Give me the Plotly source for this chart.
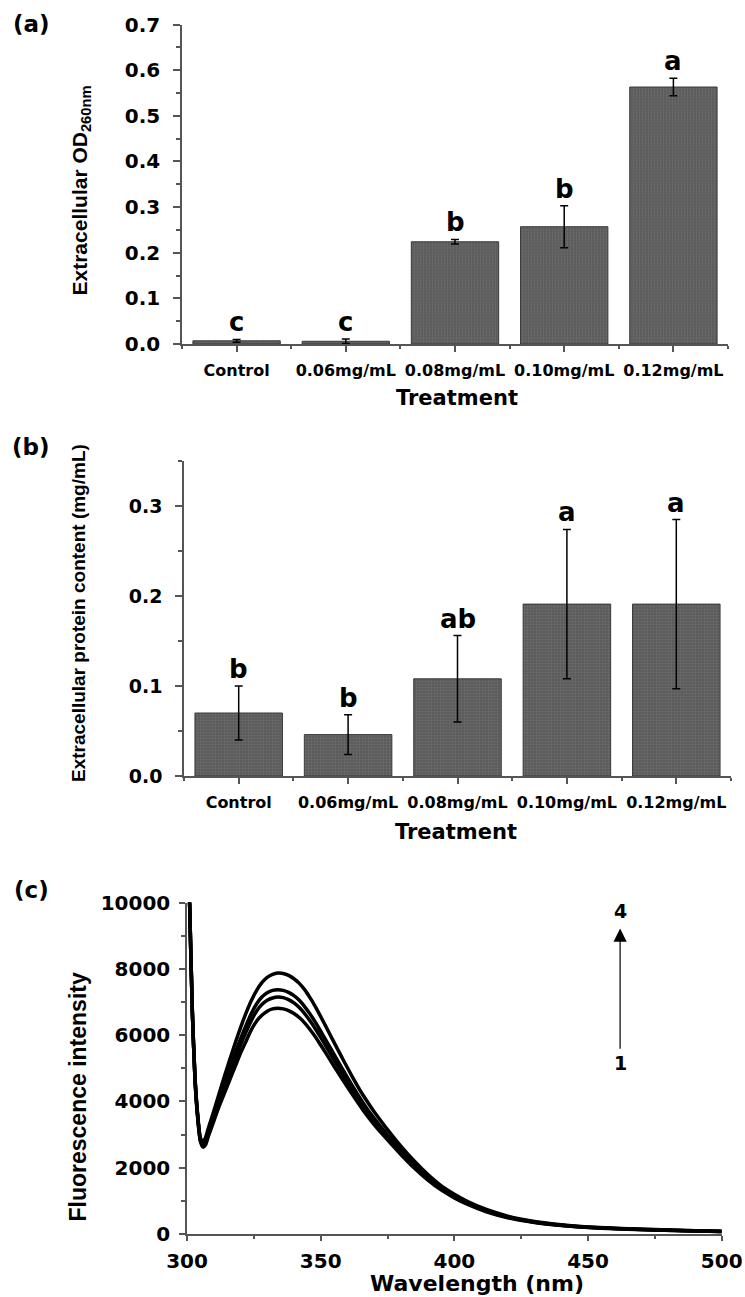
import plotly.graph_objects as go

# ---------------- data ----------------
categories = ["Control", "0.06mg/mL", "0.08mg/mL", "0.10mg/mL", "0.12mg/mL"]

od260_mean = [0.007, 0.006, 0.224, 0.257, 0.563]
od260_err = [0.003, 0.005, 0.005, 0.046, 0.019]
od260_letters = ["c", "c", "b", "b", "a"]

protein_mean = [0.070, 0.046, 0.108, 0.191, 0.191]
protein_err = [0.030, 0.022, 0.048, 0.083, 0.094]
protein_letters = ["b", "b", "ab", "a", "a"]

wavelength = [300, 301, 302, 303, 304, 305, 306, 307, 308, 310, 312, 314, 316, 318, 320,
              322, 324, 326, 328, 330, 332, 334, 336, 338, 340, 342, 344, 346, 348, 350,
              352, 355, 358, 362, 366, 370, 375, 380, 385, 390, 395, 400, 405, 412, 420,
              430, 440, 450, 460, 475, 490, 500]
fluor_1 = [13000, 9900, 6700, 4650, 3500, 2800, 2620, 2700, 2950, 3400, 3850, 4250, 4650, 5050, 5450,
           5800, 6150, 6420, 6600, 6720, 6790, 6810, 6790, 6740, 6650, 6530, 6370, 6170, 5950, 5700,
           5450, 5060, 4680, 4190, 3720, 3300, 2840, 2400, 1990, 1630, 1330, 1090, 890, 670, 490,
           345, 255, 195, 160, 120, 90, 72]
fluor_2 = [13000, 9900, 6700, 4670, 3530, 2830, 2670, 2760, 3000, 3480, 3950, 4400, 4850, 5280, 5700,
           6080, 6430, 6720, 6920, 7050, 7120, 7150, 7130, 7070, 6970, 6830, 6650, 6430, 6190, 5930,
           5660, 5250, 4850, 4320, 3830, 3400, 2920, 2470, 2050, 1680, 1370, 1120, 915, 690, 505,
           355, 262, 200, 165, 124, 93, 74]
fluor_3 = [13000, 9900, 6700, 4690, 3560, 2860, 2720, 2830, 3080, 3570, 4060, 4530, 5000, 5450, 5880,
           6280, 6640, 6940, 7150, 7280, 7350, 7370, 7350, 7290, 7190, 7050, 6860, 6640, 6390, 6120,
           5840, 5420, 5000, 4450, 3940, 3490, 2990, 2530, 2100, 1720, 1400, 1150, 935, 705, 515,
           362, 267, 205, 168, 127, 95, 76]
fluor_4 = [13000, 9900, 6700, 4700, 3600, 2900, 2780, 2920, 3200, 3700, 4230, 4760, 5260, 5750, 6220,
           6650, 7030, 7340, 7580, 7740, 7830, 7870, 7860, 7800, 7700, 7560, 7370, 7130, 6860, 6560,
           6250, 5780, 5320, 4720, 4170, 3690, 3150, 2650, 2200, 1800, 1460, 1200, 980, 740, 540,
           378, 278, 212, 175, 133, 99, 80]
spectra = [fluor_1, fluor_2, fluor_3, fluor_4]

# ---------------- layout helpers ----------------
W, H = 745, 1297
def fx(p):
    return p / W
def fy(p):
    return 1 - p / H

AX = "#555555"
TICKFONT = "DejaVu Sans"
TITLEFONT = "Liberation Sans, Arial"

xpos = list(range(len(categories)))
boundaries = [i - 0.5 for i in range(len(categories) + 1)]

bar_marker = dict(
    color="#5c5c5c",
    line=dict(color="#3a3a3a", width=1),
    pattern=dict(shape=".", fgcolor="#6e6e6e", bgcolor="#5a5a5a", size=3, solidity=0.35),
)

fig = go.Figure()

# (a) bars
fig.add_trace(go.Bar(
    x=xpos, y=od260_mean, width=0.8, marker=bar_marker,
    error_y=dict(type="data", array=od260_err, color="black", thickness=1.5, width=4),
    xaxis="x", yaxis="y", showlegend=False))

# (b) bars
fig.add_trace(go.Bar(
    x=xpos, y=protein_mean, width=0.8, marker=bar_marker,
    error_y=dict(type="data", array=protein_err, color="black", thickness=1.5, width=4),
    xaxis="x2", yaxis="y2", showlegend=False))

# (c) spectra
for s in spectra:
    fig.add_trace(go.Scatter(
        x=wavelength, y=s, mode="lines",
        line=dict(color="black", width=3.5, shape="spline", smoothing=0.6),
        xaxis="x3", yaxis="y3", showlegend=False))

def bar_xaxis(domain, anchor):
    return dict(
        domain=domain, anchor=anchor, range=[-0.5, len(categories) - 0.5],
        automargin=False,
        tickmode="array", tickvals=xpos, ticktext=categories,
        ticks="outside", ticklen=6, tickwidth=1.5, tickcolor=AX,
        showline=True, linecolor=AX, linewidth=1.5,
        showgrid=False, zeroline=False, ticklabelstandoff=5,
        tickfont=dict(family=TICKFONT, size=16, color="black", weight="bold"),
        minor=dict(tickmode="array", tickvals=boundaries, ticks="outside",
                   ticklen=3, tickwidth=1.5, tickcolor=AX),
    )

def val_yaxis(domain, anchor, rng, dtick, fsize):
    return dict(
        domain=domain, anchor=anchor, range=rng, dtick=dtick, tick0=0,
        automargin=False,
        tickformat=".1f", ticks="outside", ticklen=7, tickwidth=1.5, tickcolor=AX,
        showline=True, linecolor=AX, linewidth=1.5,
        showgrid=False, zeroline=False, ticklabelstandoff=9,
        tickfont=dict(family=TICKFONT, size=fsize, color="black", weight="bold"),
        minor=dict(dtick=dtick / 2, tick0=0, ticks="outside", ticklen=4,
                   tickwidth=1.5, tickcolor=AX),
    )

layout = dict(
    template="none",
    width=W, height=H, autosize=False,
    margin=dict(l=0, r=0, t=0, b=0, pad=0),
    paper_bgcolor="white", plot_bgcolor="white",
    bargap=0.2,
    xaxis=bar_xaxis([fx(182), fx(728)], "y"),
    yaxis=val_yaxis([fy(344), fy(24.5)], "x", [0, 0.7], 0.1, 20),
    xaxis2=bar_xaxis([fx(184), fx(731)], "y2"),
    yaxis2=val_yaxis([fy(776), fy(461)], "x2", [0, 0.35], 0.1, 19),
    xaxis3=dict(
        domain=[fx(187), fx(721.7)], anchor="y3", range=[300, 500], dtick=50, tick0=300,
        automargin=False,
        ticks="outside", ticklen=5, tickwidth=1.5, tickcolor=AX,
        showline=True, linecolor=AX, linewidth=1.5, showgrid=False, zeroline=False,
        ticklabelstandoff=3,
        tickfont=dict(family=TICKFONT, size=20, color="black", weight="bold"),
        minor=dict(dtick=25, tick0=300, ticks="outside", ticklen=3, tickwidth=1.5, tickcolor=AX),
    ),
    yaxis3=dict(
        domain=[fy(1234), fy(902.5)], anchor="x3", range=[0, 10000], dtick=2000, tick0=0,
        automargin=False,
        tickformat="d", ticks="outside", ticklen=6, tickwidth=1.5, tickcolor=AX,
        showline=True, linecolor=AX, linewidth=1.5, showgrid=False, zeroline=False,
        ticklabelstandoff=5,
        tickfont=dict(family=TICKFONT, size=20, color="black", weight="bold"),
        minor=dict(dtick=1000, tick0=0, ticks="outside", ticklen=4, tickwidth=1.5, tickcolor=AX),
    ),
)
fig.update_layout(**layout)

ann = []
# significance letters
for i in xpos:
    ann.append(dict(x=i, y=od260_mean[i] + od260_err[i], xref="x", yref="y",
                    text=od260_letters[i], showarrow=False, xanchor="center", yanchor="bottom",
                    font=dict(family=TICKFONT, size=26, color="black", weight="bold")))
    ann.append(dict(x=i, y=protein_mean[i] + protein_err[i], xref="x2", yref="y2",
                    text=protein_letters[i], showarrow=False, xanchor="center", yanchor="bottom",
                    font=dict(family=TICKFONT, size=26, color="black", weight="bold")))

# panel labels
for lab, yy in [("(a)", 24), ("(b)", 447), ("(c)", 890)]:
    ann.append(dict(x=fx(31), y=fy(yy), xref="paper", yref="paper", text=lab,
                    showarrow=False, xanchor="center", yanchor="middle",
                    font=dict(family=TICKFONT, size=23, color="black", weight="bold")))

def title(text, x, y, size, family, angle=0):
    return dict(x=fx(x), y=fy(y), xref="paper", yref="paper", text=text, textangle=angle,
                showarrow=False, xanchor="center", yanchor="middle",
                font=dict(family=family, size=size, color="black", weight="bold"))

# axis titles
ann.append(title("Treatment", 456.5, 398, 21, TICKFONT))
ann.append(title("Treatment", 456, 832, 21, TICKFONT))
ann.append(title("Wavelength (nm)", 477, 1283, 22, TICKFONT))
ann.append(title("Extracellular OD<sub>260nm</sub>", 80, 190.5, 21, TITLEFONT, -90))
ann.append(title("Extracellular protein content (mg/mL)", 78, 613, 19, TITLEFONT, -90))
ann.append(title("Fluorescence intensity", 77, 1097.5, 23, TITLEFONT, -90))

# arrow 1 -> 4 in (c)
ann.append(dict(x=462, y=9217, ax=462, ay=5542, xref="x3", yref="y3", axref="x3", ayref="y3",
                text="", showarrow=True, arrowhead=2, arrowsize=2.2, arrowwidth=1.2,
                arrowcolor="black"))
ann.append(dict(x=462, y=9738, xref="x3", yref="y3", text="4", showarrow=False,
                xanchor="center", yanchor="middle",
                font=dict(family=TICKFONT, size=19, color="black", weight="bold")))
ann.append(dict(x=462, y=5150, xref="x3", yref="y3", text="1", showarrow=False,
                xanchor="center", yanchor="middle",
                font=dict(family=TICKFONT, size=19, color="black", weight="bold")))

fig.update_layout(annotations=ann)
fig.write_html("out.html")
